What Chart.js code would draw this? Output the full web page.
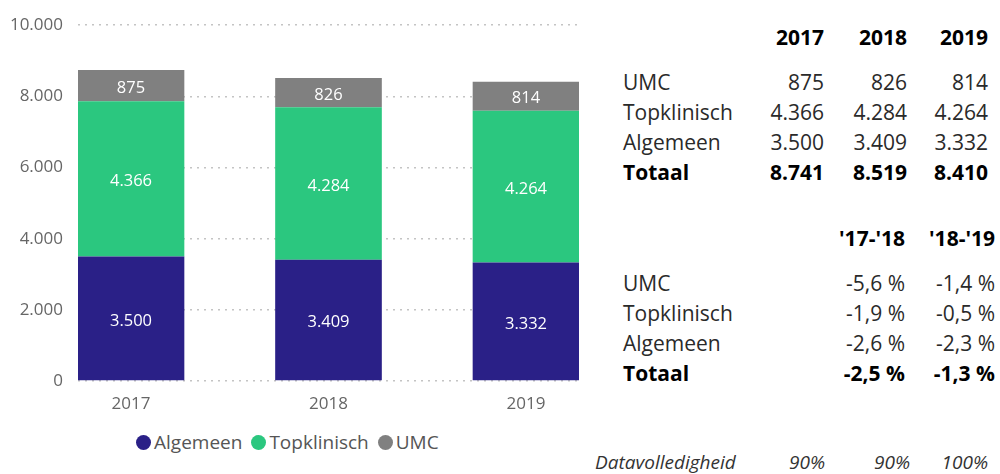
<!DOCTYPE html>
<html>
<head>
<meta charset="utf-8">
<script src="https://cdn.jsdelivr.net/npm/chart.js@4/dist/chart.umd.min.js"></script>
<style>
  body { margin: 0; background: #fff; font-family: "Open Sans", sans-serif; }
  #wrap { position: relative; width: 1000px; height: 474px; overflow: hidden; }
  #chartBox { position: absolute; left: 0; top: 0; width: 600px; height: 420px; }
  #legend { position: absolute; left: 136px; top: 429px; font-size: 19px; color: #555; white-space: nowrap; }
  #legend span.dot { display: inline-block; width: 15px; height: 15px; border-radius: 50%; vertical-align: -1px; margin-right: 3px; }
  #legend span.item { margin-right: 9px; }
  .row { position: absolute; left: 0; height: 30px; line-height: 30px; font-size: 21px; color: #2a2a2a; white-space: nowrap; }
  .row span { position: absolute; top: 0; }
  .row .lbl { left: 623px; }
  .row .num { text-align: right; width: 120px; }
  .bold { font-weight: bold; color: #000; }
  .dv { font-style: italic; font-size: 19px; color: #333; }
</style>
</head>
<body>
<div id="wrap">
  <div id="chartBox"><canvas id="c"></canvas></div>
  <div id="legend"></div>
  <div id="table"></div>
</div>
<script>
const years = ['2017', '2018', '2019'];
const algemeen = [3500, 3409, 3332];
const topklinisch = [4366, 4284, 4264];
const umc = [875, 826, 814];
const totaal = [8741, 8519, 8410];
const yTicks = [0, 2000, 4000, 6000, 8000, 10000];
const periods = ["'17-'18", "'18-'19"];
const pctUmc = ['-5,6 %', '-1,4 %'];
const pctTop = ['-1,9 %', '-0,5 %'];
const pctAlg = ['-2,6 %', '-2,3 %'];
const pctTot = ['-2,5 %', '-1,3 %'];
const volledigheid = ['90%', '90%', '100%'];

const colors = { Algemeen: '#2a2087', Topklinisch: '#2bc77f', UMC: '#808080' };

function fmt(v) {
  return String(v).replace(/\B(?=(\d{3})+(?!\d))/g, '.');
}

const barLabels = {
  id: 'barLabels',
  afterDatasetsDraw(chart) {
    const ctx = chart.ctx;
    ctx.save();
    ctx.fillStyle = '#fff';
    ctx.font = '16.5px "Open Sans"';
    ctx.textAlign = 'center';
    ctx.textBaseline = 'middle';
    chart.data.datasets.forEach((ds, di) => {
      chart.getDatasetMeta(di).data.forEach((bar, i) => {
        const y = (bar.y + bar.base) / 2 + 2.5;
        ctx.fillText(fmt(ds.data[i].y), bar.x, y);
      });
    });
    ctx.restore();
  }
};

function pts(arr) {
  return arr.map((v, i) => ({ x: i, y: v }));
}

new Chart(document.getElementById('c'), {
  type: 'bar',
  data: {
    datasets: [
      { label: 'Algemeen', data: pts(algemeen), backgroundColor: colors.Algemeen },
      { label: 'Topklinisch', data: pts(topklinisch), backgroundColor: colors.Topklinisch },
      { label: 'UMC', data: pts(umc), backgroundColor: colors.UMC }
    ]
  },
  options: {
    responsive: true,
    maintainAspectRatio: false,
    animation: false,
    layout: { padding: { top: 23, left: 0, right: 21, bottom: 0 } },
    datasets: { bar: { barPercentage: 0.54, categoryPercentage: 1 } },
    scales: {
      x: {
        type: 'linear',
        stacked: true,
        min: -0.2684,
        max: 2.2684,
        offset: false,
        grid: { display: false },
        border: { display: false },
        afterBuildTicks: s => { s.ticks = years.map((y, i) => ({ value: i })); },
        afterFit: s => { s.height = 39; },
        ticks: {
          callback: v => years[v],
          color: '#666',
          font: { family: 'Open Sans', size: 17 },
          padding: 5
        }
      },
      y: {
        stacked: true,
        min: 0,
        max: 10000,
        afterBuildTicks: s => { s.ticks = yTicks.map(v => ({ value: v })); },
        afterFit: s => { s.width = 78; },
        grid: { color: '#c4c4c4', lineWidth: 1.5, drawTicks: false },
        border: { display: false, dash: [2, 5] },
        ticks: {
          callback: v => fmt(v),
          color: '#666',
          font: { family: 'Open Sans', size: 17 },
          padding: 15
        }
      }
    },
    plugins: {
      legend: { display: false },
      tooltip: { enabled: false }
    }
  },
  plugins: [barLabels]
});

// legend
const legend = document.getElementById('legend');
['Algemeen', 'Topklinisch', 'UMC'].forEach(name => {
  const s = document.createElement('span');
  s.className = 'item';
  s.innerHTML = '<span class="dot" style="background:' + colors[name] + '"></span>' + name;
  legend.appendChild(s);
});

// table on the right
const table = document.getElementById('table');
function row(centerY, label, values, rights, cls) {
  const d = document.createElement('div');
  d.className = 'row ' + (cls || '');
  d.style.top = (centerY - 15) + 'px';
  let html = label ? '<span class="lbl">' + label + '</span>' : '';
  values.forEach((v, i) => {
    html += '<span class="num" style="left:' + (rights[i] - 120) + 'px">' + v + '</span>';
  });
  d.innerHTML = html;
  table.appendChild(d);
}
const yr = [824, 907, 988];
const pr = [905, 995];
row(37, '', years, yr, 'bold');
row(82, 'UMC', umc.map(fmt), yr);
row(112, 'Topklinisch', topklinisch.map(fmt), yr);
row(142, 'Algemeen', algemeen.map(fmt), yr);
row(172, 'Totaal', totaal.map(fmt), yr, 'bold');
row(238, '', periods, pr, 'bold');
row(283, 'UMC', pctUmc, pr);
row(313, 'Topklinisch', pctTop, pr);
row(343, 'Algemeen', pctAlg, pr);
row(373, 'Totaal', pctTot, pr, 'bold');

const dv = document.createElement('div');
dv.className = 'row dv';
dv.style.top = '447px';
dv.innerHTML = '<span style="left:595px">Datavolledigheid</span>' +
  volledigheid.map((v, i) => '<span class="num" style="left:' + ([825, 910, 988][i] - 120) + 'px">' + v + '</span>').join('');
table.appendChild(dv);
</script>
</body>
</html>
